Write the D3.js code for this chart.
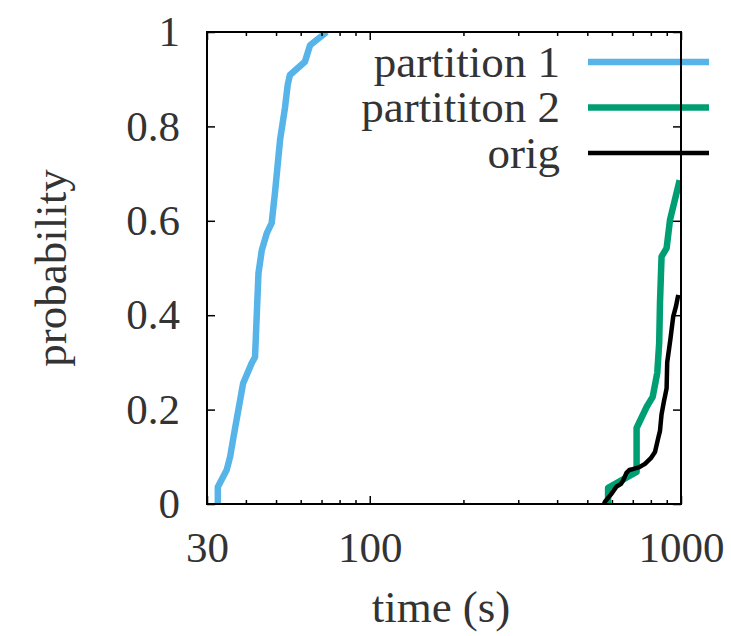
<!DOCTYPE html>
<html>
<head>
<meta charset="utf-8">
<script src="https://cdn.jsdelivr.net/npm/d3@7"></script>
<style>
  html, body { margin: 0; padding: 0; background: #fff; }
</style>
</head>
<body>
<div id="chart"></div>
<script>
// CDF curves: [time (s), probability]
const partition1 = [
  [32.5, 0], [32.5, 0.036], [34.7, 0.072], [35.6, 0.1], [36.5, 0.142],
  [39.2, 0.256], [41.8, 0.299], [42.8, 0.311], [43.9, 0.489], [45.0, 0.538],
  [46.7, 0.574], [48.4, 0.595], [49.6, 0.659], [51.5, 0.771], [53.4, 0.839],
  [54.5, 0.888], [55.4, 0.909], [61.9, 0.937], [64.3, 0.972], [72.7, 1.0]
];
const partition2 = [
  [583, 0], [583, 0.034], [720, 0.068], [720, 0.161], [776, 0.206],
  [811, 0.227], [839, 0.278], [851, 0.341], [856, 0.426], [866, 0.524],
  [899, 0.542], [922, 0.602], [990, 0.686]
];
const orig = [
  [566, 0], [570, 0.005], [595, 0.02], [621, 0.037], [640, 0.042], [652, 0.05],
  [668, 0.066], [682, 0.072], [700, 0.074], [735, 0.078], [766, 0.085],
  [800, 0.097], [825, 0.11], [845, 0.14], [856, 0.155], [866, 0.19],
  [880, 0.215], [899, 0.245], [903, 0.3], [925, 0.35], [944, 0.397],
  [963, 0.418], [980, 0.443]
];

const seriesNames = ["partition 1", "partititon 2", "orig"];
const seriesData = [partition1, partition2, orig];

const xMajorTicks = [30, 100, 1000];
const xMinorTicks = [40, 50, 60, 70, 80, 90, 200, 300, 400, 500, 600, 700, 800, 900];
const yTicks = [0, 0.2, 0.4, 0.6, 0.8, 1];

const colors = ["#56b4e9", "#009e73", "#000000"];
const widths = [6.5, 6.5, 4.5];

const svgWidth = 731, svgHeight = 636;
const marginLeft = 207, marginTop = 32;
const width = 474, height = 472;

const serif = "Liberation Serif, DejaVu Serif, serif";
const textColor = "#333";

const svg = d3.select("#chart")
  .append("svg")
  .attr("width", svgWidth)
  .attr("height", svgHeight)
  .style("background", "#fff");

const chart = svg.append("g")
  .attr("transform", `translate(${marginLeft}, ${marginTop})`);

const x = d3.scaleLog().domain([30, 1000]).range([0, width]);
const y = d3.scaleLinear().domain([0, 1]).range([height, 0]);

svg.append("defs").append("clipPath").attr("id", "clip")
  .append("rect").attr("width", width).attr("height", height);

// curves
const line = d3.line().x((d) => x(d[0])).y((d) => y(d[1]));
chart.append("g")
  .attr("clip-path", "url(#clip)")
  .selectAll("path")
  .data(seriesData)
  .join("path")
  .attr("d", line)
  .attr("fill", "none")
  .attr("stroke", (d, i) => colors[i])
  .attr("stroke-width", (d, i) => widths[i])
  .attr("stroke-linejoin", "round");

// axes (ticks point inward, mirrored on top/right)
const styleAxis = (g) => {
  g.select(".domain").remove();
  g.selectAll(".tick line").attr("stroke", "#000").attr("stroke-width", 1.5);
  g.selectAll(".tick text")
    .attr("fill", textColor)
    .style("font-family", serif)
    .style("font-size", "43px");
};

chart.append("g")
  .attr("transform", `translate(0, ${height})`)
  .call(d3.axisBottom(x).tickValues(xMajorTicks).tickFormat(d3.format("d"))
    .tickSize(-8).tickPadding(27))
  .call(styleAxis);
chart.append("g")
  .attr("transform", `translate(0, ${height})`)
  .call(d3.axisBottom(x).tickValues(xMinorTicks).tickFormat("").tickSize(-4))
  .call(styleAxis);
chart.append("g")
  .call(d3.axisTop(x).tickValues(xMajorTicks).tickFormat("").tickSize(-8))
  .call(styleAxis);
chart.append("g")
  .call(d3.axisTop(x).tickValues(xMinorTicks).tickFormat("").tickSize(-4))
  .call(styleAxis);

chart.append("g")
  .call(d3.axisLeft(y).tickValues(yTicks).tickFormat((d) => (d === 0 || d === 1 ? d3.format("d")(d) : d3.format(".1f")(d)))
    .tickSize(-8).tickPadding(27))
  .call(styleAxis);
chart.append("g")
  .attr("transform", `translate(${width}, 0)`)
  .call(d3.axisRight(y).tickValues(yTicks).tickFormat("").tickSize(-8))
  .call(styleAxis);

// legend
const legend = chart.append("g");
const legendRows = legend.selectAll("g")
  .data(seriesNames)
  .join("g")
  .attr("transform", (d, i) => `translate(0, ${30 + i * 45.5})`);
legendRows.append("text")
  .attr("x", 353)
  .attr("y", 0)
  .attr("dy", "0.33em")
  .attr("text-anchor", "end")
  .style("font-family", serif)
  .style("font-size", "45px")
  .attr("fill", textColor)
  .text((d) => d);
legendRows.append("line")
  .attr("x1", 381).attr("x2", 502)
  .attr("stroke", (d, i) => colors[i])
  .attr("stroke-width", (d, i) => widths[i]);

// border
chart.append("rect")
  .attr("width", width)
  .attr("height", height)
  .attr("fill", "none")
  .attr("stroke", "#000")
  .attr("stroke-width", 2);

// axis titles
svg.append("text")
  .attr("x", marginLeft + width / 2 - 3)
  .attr("y", 622)
  .attr("text-anchor", "middle")
  .style("font-family", serif)
  .style("font-size", "45px")
  .attr("fill", textColor)
  .text("time (s)");

svg.append("text")
  .attr("transform", `translate(66, ${marginTop + height / 2}) rotate(-90)`)
  .attr("text-anchor", "middle")
  .style("font-family", serif)
  .style("font-size", "45px")
  .attr("fill", textColor)
  .text("probability");
</script>
</body>
</html>
